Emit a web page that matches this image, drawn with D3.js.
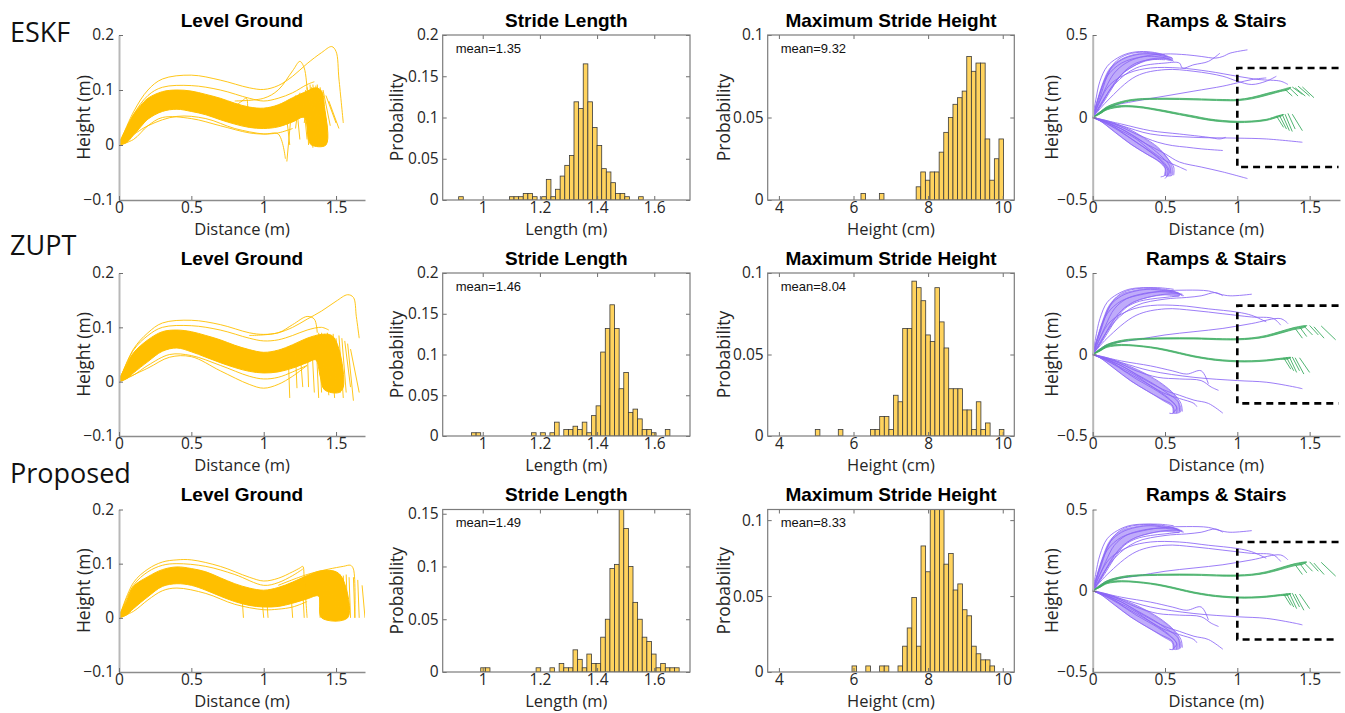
<!DOCTYPE html>
<html>
<head>
<meta charset="utf-8">
<script src="https://cdn.jsdelivr.net/npm/d3@7"></script>
<style>
body { margin: 0; background: #fff; }
</style>
</head>
<body>
<div id="chart"></div>
<script>
// ---------- data: level ground trajectories (distance m, height m) ----------
var lgEskfTop = [[0,0.004],[0.05,0.03],[0.1,0.055],[0.15,0.072],[0.2,0.085],[0.3,0.097],[0.4,0.1],[0.5,0.098],[0.6,0.092],[0.7,0.085],[0.8,0.076],[0.9,0.069],[1.0,0.067],[1.1,0.073],[1.2,0.086],[1.3,0.098],[1.36,0.104],[1.4,0.098],[1.42,0.07],[1.43,0.0]];
var lgEskfBottom = [[0,0],[0.05,0.004],[0.1,0.018],[0.15,0.033],[0.2,0.047],[0.3,0.061],[0.4,0.065],[0.5,0.061],[0.6,0.055],[0.7,0.046],[0.8,0.038],[0.9,0.032],[1.0,0.03],[1.1,0.033],[1.2,0.042],[1.28,0.05],[1.31,0.01],[1.33,0.0]];
var lgEskfLines = [
  [[0,0],[0.1,0.06],[0.2,0.1],[0.3,0.12],[0.5,0.127],[0.7,0.118],[0.9,0.104],[1.0,0.101],[1.1,0.108],[1.2,0.125],[1.3,0.148],[1.4,0.168],[1.47,0.179],[1.5,0.17],[1.52,0.12],[1.55,0.04]],
  [[0.8,0.08],[1.0,0.085],[1.1,0.1],[1.2,0.135],[1.25,0.152],[1.28,0.14],[1.3,0.1]],
  [[0,0],[0.1,0.055],[0.2,0.09],[0.3,0.105],[0.5,0.108],[0.7,0.1],[0.9,0.085],[1.0,0.08],[1.1,0.085],[1.2,0.095],[1.3,0.11],[1.35,0.115]],
  [[0,0],[0.2,0.035],[0.4,0.052],[0.6,0.048],[0.8,0.03],[1.0,0.02],[1.1,0.02],[1.15,-0.025]],
  [[0.75,0.06],[0.85,0.08],[0.88,0.085],[0.9,0.05],[0.95,0.04]],
  [[0,0],[0.1,0.01],[0.2,0.035],[0.3,0.05],[0.5,0.048],[0.7,0.035],[0.9,0.022],[1.0,0.02],[1.1,0.022],[1.2,0.03]]
];
var lgEskfTails = [[1.27,0.09,1.3,0.01],[1.29,0.1,1.31,0.0],[1.3,0.105,1.33,0.005],[1.31,0.1,1.34,-0.005],[1.32,0.11,1.35,0.0],[1.33,0.105,1.36,0.01],[1.34,0.11,1.37,0.0],[1.35,0.1,1.38,0.005],[1.36,0.108,1.39,0.01],[1.37,0.11,1.4,0.0],[1.38,0.1,1.41,0.015],[1.39,0.105,1.42,0.02],[1.4,0.095,1.44,0.03],[1.41,0.1,1.46,0.035],[1.43,0.09,1.5,0.04],[1.45,0.08,1.52,0.03],[1.25,0.095,1.22,0.03],[1.2,0.085,1.16,-0.03],[1.15,0.07,1.18,0.0],[1.22,0.09,1.25,0.01],[1.3,0.08,1.28,0.04],[1.33,0.085,1.32,0.03]];

var lgZuptTop = [[0,0.004],[0.05,0.03],[0.1,0.053],[0.2,0.077],[0.3,0.092],[0.4,0.095],[0.5,0.092],[0.6,0.085],[0.7,0.077],[0.8,0.067],[0.9,0.059],[1.0,0.054],[1.1,0.058],[1.2,0.068],[1.3,0.08],[1.4,0.087],[1.47,0.085],[1.52,0.06],[1.55,-0.01]];
var lgZuptBottom = [[0,0],[0.05,0.005],[0.1,0.016],[0.2,0.037],[0.3,0.056],[0.4,0.062],[0.5,0.055],[0.6,0.045],[0.7,0.035],[0.8,0.026],[0.9,0.019],[1.0,0.016],[1.1,0.018],[1.2,0.025],[1.3,0.035],[1.36,0.04],[1.39,0.01],[1.42,-0.015],[1.52,-0.02]];
var lgZuptLines = [
  [[0,0],[0.1,0.06],[0.2,0.09],[0.3,0.108],[0.5,0.113],[0.7,0.105],[0.9,0.09],[1.0,0.087],[1.1,0.09],[1.2,0.1],[1.3,0.115],[1.4,0.13],[1.5,0.148],[1.58,0.16],[1.62,0.155],[1.64,0.12],[1.66,0.08]],
  [[0.9,0.085],[1.1,0.09],[1.2,0.105],[1.3,0.12],[1.35,0.115],[1.37,0.09]],
  [[0,0],[0.2,0.025],[0.35,0.045],[0.5,0.046],[0.7,0.02],[0.9,-0.005],[1.0,-0.012],[1.1,-0.005],[1.2,0.01],[1.3,0.03]],
  [[0,0],[0.1,0.058],[0.2,0.085],[0.3,0.1],[0.5,0.103],[0.7,0.095],[0.9,0.08],[1.0,0.075],[1.1,0.077],[1.2,0.085],[1.3,0.095],[1.4,0.1],[1.45,0.095]],
  [[0,0],[0.1,0.012],[0.2,0.03],[0.35,0.05],[0.5,0.048],[0.7,0.03],[0.9,0.01],[1.0,0.005],[1.1,0.008],[1.2,0.018],[1.3,0.03]]
];
var lgZuptTails = [[1.3,0.07,1.31,-0.01],[1.33,0.08,1.35,-0.02],[1.36,0.085,1.38,-0.03],[1.38,0.09,1.4,-0.02],[1.4,0.09,1.42,-0.01],[1.42,0.088,1.45,-0.025],[1.44,0.09,1.47,-0.02],[1.46,0.085,1.49,-0.03],[1.48,0.088,1.5,-0.015],[1.5,0.08,1.53,-0.02],[1.52,0.085,1.55,-0.03],[1.54,0.08,1.57,-0.02],[1.56,0.075,1.6,-0.01],[1.58,0.07,1.62,-0.035],[1.6,0.06,1.66,-0.02],[1.17,0.045,1.18,-0.03],[1.22,0.05,1.23,-0.012],[1.25,0.06,1.27,-0.01]];

var lgPropTop = [[0,0.004],[0.05,0.03],[0.1,0.058],[0.2,0.076],[0.3,0.089],[0.4,0.094],[0.5,0.091],[0.6,0.085],[0.7,0.074],[0.8,0.063],[0.9,0.055],[1.0,0.051],[1.1,0.056],[1.2,0.066],[1.3,0.078],[1.4,0.087],[1.5,0.085],[1.55,0.07],[1.58,0.0]];
var lgPropBottom = [[0,0],[0.05,0.005],[0.1,0.017],[0.2,0.039],[0.3,0.058],[0.4,0.063],[0.5,0.06],[0.6,0.051],[0.7,0.04],[0.8,0.03],[0.9,0.023],[1.0,0.02],[1.1,0.021],[1.2,0.027],[1.3,0.035],[1.38,0.04],[1.4,0.0]];
var lgPropLines = [
  [[0,0],[0.1,0.065],[0.2,0.09],[0.3,0.103],[0.4,0.107],[0.5,0.107],[0.7,0.095],[0.9,0.075],[1.0,0.068],[1.1,0.073],[1.2,0.085],[1.25,0.092],[1.27,0.095],[1.28,0.07],[1.3,0.0]],
  [[1.1,0.06],[1.3,0.08],[1.45,0.09],[1.55,0.095],[1.6,0.097],[1.62,0.09],[1.63,0.0]],
  [[0,0],[0.1,0.06],[0.2,0.085],[0.3,0.097],[0.4,0.1],[0.6,0.095],[0.8,0.08],[1.0,0.06],[1.1,0.065],[1.2,0.078],[1.27,0.09]],
  [[0,0],[0.1,0.012],[0.2,0.033],[0.3,0.05],[0.4,0.055],[0.6,0.045],[0.8,0.025],[1.0,0.015],[1.1,0.016],[1.2,0.02],[1.3,0.03]]
];
var lgPropTails = [[1.38,0.08,1.39,0],[1.41,0.085,1.42,0],[1.43,0.088,1.44,0],[1.45,0.087,1.46,0],[1.47,0.085,1.48,0],[1.49,0.086,1.5,0],[1.51,0.084,1.52,0],[1.53,0.08,1.54,0],[1.55,0.078,1.56,0],[1.57,0.08,1.58,0],[1.59,0.075,1.6,0],[1.62,0.075,1.63,0],[1.65,0.07,1.66,0],[1.68,0.06,1.7,0],[0.85,0.04,0.86,0],[0.99,0.03,1.0,0],[1.02,0.04,1.03,0],[1.19,0.04,1.2,0],[1.27,0.05,1.28,0]];

// ---------- data: histograms (probability per bin) ----------
var slBinWidth = 0.01614;
var slEskfStart = 0.9158;
var slEskf = [0.004,0,0,0,0,0,0,0,0,0,0,0.004,0.004,0.004,0.008,0.008,0.004,0,0.004,0.025,0.004,0.013,0.029,0.042,0.054,0.119,0.111,0.165,0.119,0.088,0.066,0.038,0.034,0.021,0.008,0.008,0.004,0,0,0.004];
var slZuptStart = 0.9607;
var slZupt = [0.004,0.004,0,0,0,0,0,0,0,0,0,0,0,0.004,0,0.004,0,0.004,0.017,0,0.008,0.008,0.012,0.008,0.017,0.004,0.025,0.037,0.103,0.132,0.161,0.132,0.058,0.078,0.029,0.033,0.021,0.008,0.008,0.004,0,0,0.008];
var slPropStart = 0.993;
var slProp = [0.004,0.004,0,0,0,0,0,0,0,0,0,0,0.004,0,0,0.004,0,0.008,0.004,0.004,0.021,0.012,0.004,0.017,0.008,0.008,0.033,0.05,0.098,0.102,0.16,0.136,0.1,0.066,0.05,0.033,0.029,0.017,0.004,0.008,0.004,0.004,0.004];

var mhBinWidth = 0.1233;
var mhEskfStart = 6.2;
var mhEskf = [0.004,0,0,0,0.004,0,0,0,0,0,0,0,0.008,0.017,0.012,0.017,0.017,0.029,0.041,0.05,0.058,0.062,0.066,0.087,0.078,0.083,0.083,0.037,0.012,0.025,0.037];
var mhZuptStart = 4.976;
var mhZupt = [0.004,0,0,0,0,0.004,0,0,0,0,0,0,0.004,0.004,0.012,0.012,0.004,0.025,0.021,0.066,0.066,0.095,0.091,0.083,0.062,0.058,0.091,0.07,0.054,0.029,0.029,0.029,0.016,0.016,0.004,0.021,0.004,0.008,0,0,0.004];
var mhPropStart = 5.96;
var mhProp = [0.004,0,0,0.004,0,0,0.004,0.004,0,0,0.004,0.017,0.029,0.049,0.017,0.083,0.066,0.12,0.13,0.115,0.071,0.078,0.054,0.058,0.041,0.037,0.017,0.012,0.008,0.008,0.004];

var slMeans = ["1.35", "1.46", "1.49"];
var mhMeans = ["9.32", "8.04", "8.33"];

// ---------- data: ramps & stairs (row 1 = A, rows 2-3 = B) ----------
var rsPurpleA = [
  [[0,0],[0.02,0.1],[0.05,0.22],[0.1,0.31],[0.17,0.36],[0.25,0.39],[0.35,0.4],[0.45,0.39],[0.52,0.37]],
  [[0,0],[0.03,0.09],[0.07,0.2],[0.12,0.29],[0.2,0.35],[0.3,0.38],[0.4,0.385],[0.5,0.37],[0.55,0.36]],
  [[0,0],[0.04,0.08],[0.09,0.18],[0.15,0.27],[0.23,0.33],[0.33,0.365],[0.43,0.37],[0.53,0.355],[0.56,0.34]],
  [[0,0],[0.06,0.08],[0.12,0.17],[0.2,0.26],[0.28,0.31],[0.38,0.35],[0.48,0.36],[0.54,0.35]],
  [[0,0],[0.05,0.12],[0.1,0.25],[0.15,0.33],[0.22,0.375],[0.32,0.395],[0.42,0.39],[0.5,0.38]],
  [[0,0],[0.08,0.1],[0.15,0.2],[0.22,0.28],[0.3,0.33],[0.4,0.35],[0.5,0.35]],
  [[0,0],[0.04,0.12],[0.1,0.25],[0.2,0.33],[0.35,0.37],[0.5,0.385],[0.65,0.38],[0.75,0.37],[0.85,0.36],[0.9,0.37],[0.95,0.39],[1.07,0.41]],
  [[0,0],[0.05,0.1],[0.12,0.2],[0.25,0.27],[0.4,0.3],[0.6,0.3],[0.8,0.28],[1.0,0.25],[1.15,0.23],[1.3,0.22],[1.35,0.2]],
  [[0,0],[0.1,0.1],[0.3,0.25],[0.5,0.29],[0.7,0.28],[0.9,0.25],[1.0,0.22],[1.1,0.2],[1.2,0.22],[1.27,0.25]],
  [[0,0],[0.1,0.06],[0.3,0.1],[0.5,0.13],[0.7,0.16],[0.9,0.19],[1.0,0.21],[1.1,0.23],[1.2,0.24]],
  [[0,0],[0.15,0.2],[0.3,0.3],[0.5,0.33],[0.6,0.33],[0.62,0.3],[0.7,0.32],[0.8,0.34],[0.88,0.39]],
  [[0,0],[0.05,-0.02],[0.14,-0.08],[0.26,-0.16],[0.37,-0.22],[0.45,-0.26],[0.5,-0.3],[0.5,-0.35],[0.47,-0.36]],
  [[0,0],[0.08,-0.03],[0.18,-0.08],[0.3,-0.15],[0.4,-0.21],[0.48,-0.27],[0.52,-0.32],[0.51,-0.36]],
  [[0,0],[0.1,-0.03],[0.2,-0.07],[0.3,-0.12],[0.4,-0.18],[0.48,-0.24],[0.53,-0.29],[0.54,-0.34]],
  [[0,0],[0.1,-0.02],[0.25,-0.07],[0.35,-0.12],[0.45,-0.18],[0.52,-0.25],[0.56,-0.3],[0.56,-0.35]],
  [[0,0],[0.12,-0.04],[0.22,-0.1],[0.32,-0.16],[0.42,-0.22],[0.5,-0.28],[0.53,-0.33],[0.5,-0.37]],
  [[0,0],[0.2,-0.05],[0.4,-0.1],[0.7,-0.12],[1.0,-0.125],[1.2,-0.13],[1.45,-0.15]],
  [[0,0],[0.15,-0.04],[0.3,-0.1],[0.45,-0.15],[0.55,-0.17],[0.65,-0.18],[0.75,-0.19],[0.9,-0.2]],
  [[0,0],[0.2,-0.07],[0.35,-0.15],[0.5,-0.22],[0.6,-0.27],[0.75,-0.3],[0.9,-0.33],[1.07,-0.37]],
  [[0,0],[0.15,-0.06],[0.3,-0.13],[0.4,-0.2],[0.5,-0.26],[0.6,-0.3],[0.65,-0.32]],
  [[0,0],[0.2,-0.04],[0.4,-0.08],[0.6,-0.1],[0.8,-0.12],[0.88,-0.13],[0.92,-0.12]]
];
var rsUpTopA = [[0,0],[0.03,0.1],[0.07,0.21],[0.12,0.3],[0.2,0.355],[0.3,0.385],[0.4,0.39],[0.5,0.375],[0.55,0.36]];
var rsUpBotA = [[0,0],[0.06,0.08],[0.12,0.17],[0.2,0.26],[0.28,0.31],[0.38,0.345],[0.48,0.355],[0.55,0.345]];
var rsDownTopA = [[0,0],[0.1,-0.025],[0.25,-0.075],[0.35,-0.125],[0.45,-0.185],[0.52,-0.25],[0.55,-0.3],[0.55,-0.35]];
var rsDownBotA = [[0,0],[0.06,-0.025],[0.15,-0.085],[0.27,-0.165],[0.38,-0.225],[0.46,-0.27],[0.5,-0.31],[0.5,-0.35]];
var rsGreenHiTopA = [[0,0],[0.05,0.033],[0.1,0.066],[0.2,0.097],[0.3,0.112],[0.5,0.117],[0.7,0.114],[0.9,0.109],[1.0,0.109],[1.1,0.122],[1.2,0.145],[1.3,0.167],[1.37,0.182]];
var rsGreenHiBotA = [[0,0],[0.05,0.022],[0.1,0.053],[0.2,0.088],[0.3,0.105],[0.5,0.11],[0.7,0.107],[0.9,0.102],[1.0,0.102],[1.1,0.113],[1.2,0.134],[1.3,0.158],[1.35,0.168]];
var rsGreenLoTopA = [[0,0],[0.05,0.03],[0.1,0.058],[0.2,0.072],[0.3,0.069],[0.4,0.057],[0.5,0.042],[0.6,0.025],[0.7,0.009],[0.8,-0.008],[0.9,-0.018],[1.0,-0.023],[1.1,-0.021],[1.2,-0.011],[1.28,0.01],[1.32,0.018]];
var rsGreenLoBotA = [[0,0],[0.05,0.022],[0.1,0.047],[0.2,0.064],[0.3,0.062],[0.4,0.05],[0.5,0.034],[0.6,0.017],[0.7,0.0],[0.8,-0.016],[0.9,-0.026],[1.0,-0.031],[1.1,-0.028],[1.2,-0.018],[1.28,0.002],[1.3,0.007]];
var rsGreenHooksA = [[1.33,0.17,1.38,0.13],[1.36,0.18,1.42,0.13],[1.38,0.185,1.45,0.14],[1.4,0.18,1.47,0.13],[1.42,0.19,1.5,0.13],[1.45,0.185,1.53,0.12],[1.27,0.01,1.32,-0.06],[1.29,0.015,1.34,-0.07],[1.31,0.02,1.36,-0.08],[1.33,0.02,1.38,-0.085],[1.35,0.025,1.4,-0.07],[1.38,0.02,1.45,-0.08]];

var rsPurpleB = [
  [[0,0],[0.02,0.1],[0.05,0.22],[0.1,0.32],[0.17,0.37],[0.25,0.4],[0.35,0.41],[0.45,0.405],[0.55,0.39],[0.6,0.37]],
  [[0,0],[0.03,0.09],[0.07,0.2],[0.12,0.3],[0.2,0.36],[0.3,0.39],[0.4,0.4],[0.5,0.39],[0.58,0.38],[0.62,0.36]],
  [[0,0],[0.04,0.08],[0.09,0.18],[0.15,0.28],[0.23,0.34],[0.33,0.37],[0.45,0.385],[0.55,0.38],[0.62,0.37]],
  [[0,0],[0.06,0.08],[0.12,0.18],[0.2,0.27],[0.28,0.32],[0.38,0.35],[0.5,0.37],[0.6,0.37],[0.63,0.36]],
  [[0,0],[0.05,0.13],[0.1,0.26],[0.15,0.34],[0.22,0.385],[0.32,0.405],[0.45,0.41],[0.56,0.4]],
  [[0,0],[0.08,0.1],[0.15,0.2],[0.22,0.28],[0.3,0.32],[0.4,0.34],[0.5,0.35],[0.6,0.36]],
  [[0,0],[0.04,0.12],[0.1,0.25],[0.2,0.33],[0.35,0.37],[0.5,0.39],[0.65,0.395],[0.8,0.39],[0.88,0.37],[0.95,0.36],[1.1,0.37]],
  [[0,0],[0.05,0.1],[0.12,0.2],[0.25,0.27],[0.4,0.3],[0.6,0.3],[0.8,0.28],[1.0,0.26],[1.1,0.24],[1.2,0.2]],
  [[0,0],[0.1,0.1],[0.3,0.24],[0.5,0.28],[0.7,0.27],[0.9,0.25],[1.1,0.23],[1.25,0.22],[1.3,0.18]],
  [[0,0],[0.1,0.06],[0.3,0.09],[0.5,0.12],[0.7,0.14],[0.9,0.16],[1.1,0.19],[1.3,0.22],[1.35,0.19]],
  [[0,0],[0.15,0.2],[0.3,0.3],[0.5,0.34],[0.65,0.35],[0.75,0.36],[0.85,0.38],[0.9,0.36]],
  [[0,0],[0.05,-0.02],[0.14,-0.08],[0.26,-0.16],[0.37,-0.22],[0.47,-0.27],[0.55,-0.31],[0.56,-0.36],[0.53,-0.36]],
  [[0,0],[0.08,-0.03],[0.18,-0.08],[0.3,-0.15],[0.42,-0.21],[0.52,-0.27],[0.58,-0.32],[0.58,-0.36]],
  [[0,0],[0.1,-0.03],[0.2,-0.07],[0.3,-0.12],[0.42,-0.18],[0.52,-0.24],[0.59,-0.29],[0.6,-0.35]],
  [[0,0],[0.1,-0.02],[0.25,-0.07],[0.37,-0.12],[0.48,-0.18],[0.56,-0.24],[0.61,-0.3],[0.62,-0.35]],
  [[0,0],[0.12,-0.04],[0.22,-0.1],[0.34,-0.16],[0.45,-0.22],[0.54,-0.28],[0.58,-0.33],[0.55,-0.36]],
  [[0,0],[0.2,-0.05],[0.4,-0.1],[0.7,-0.14],[1.0,-0.16],[1.2,-0.17],[1.4,-0.2],[1.45,-0.21]],
  [[0,0],[0.15,-0.04],[0.3,-0.1],[0.45,-0.14],[0.6,-0.15],[0.75,-0.16],[0.82,-0.2],[0.87,-0.22]],
  [[0,0],[0.2,-0.07],[0.35,-0.15],[0.5,-0.22],[0.6,-0.25],[0.7,-0.28],[0.8,-0.3],[0.9,-0.36]],
  [[0,0],[0.15,-0.06],[0.3,-0.13],[0.4,-0.19],[0.5,-0.24],[0.6,-0.27],[0.7,-0.3],[0.72,-0.32]],
  [[0,0],[0.2,-0.04],[0.4,-0.07],[0.55,-0.1],[0.65,-0.12],[0.75,-0.1],[0.8,-0.18]]
];
var rsUpTopB = [[0,0],[0.03,0.1],[0.07,0.21],[0.12,0.31],[0.2,0.37],[0.3,0.395],[0.4,0.405],[0.5,0.395],[0.6,0.375]];
var rsUpBotB = [[0,0],[0.06,0.08],[0.12,0.17],[0.2,0.27],[0.28,0.32],[0.38,0.35],[0.5,0.365],[0.6,0.36]];
var rsDownTopB = [[0,0],[0.1,-0.025],[0.25,-0.075],[0.37,-0.125],[0.48,-0.185],[0.56,-0.245],[0.6,-0.3],[0.61,-0.35]];
var rsDownBotB = [[0,0],[0.06,-0.025],[0.15,-0.085],[0.27,-0.165],[0.38,-0.225],[0.48,-0.28],[0.55,-0.32],[0.56,-0.36]];
var rsGreenHiTopB = [[0,0],[0.05,0.033],[0.1,0.062],[0.2,0.087],[0.3,0.097],[0.5,0.102],[0.7,0.102],[0.9,0.097],[1.0,0.097],[1.1,0.102],[1.2,0.117],[1.3,0.142],[1.4,0.167],[1.48,0.177]];
var rsGreenHiBotB = [[0,0],[0.05,0.022],[0.1,0.05],[0.2,0.078],[0.3,0.09],[0.5,0.095],[0.7,0.095],[0.9,0.09],[1.0,0.09],[1.1,0.095],[1.2,0.108],[1.3,0.131],[1.4,0.155],[1.45,0.162]];
var rsGreenLoTopB = [[0,0],[0.05,0.029],[0.1,0.053],[0.2,0.062],[0.3,0.057],[0.4,0.047],[0.5,0.032],[0.6,0.012],[0.7,-0.008],[0.8,-0.023],[0.9,-0.033],[1.0,-0.038],[1.1,-0.038],[1.2,-0.033],[1.3,-0.023],[1.37,-0.018]];
var rsGreenLoBotB = [[0,0],[0.05,0.021],[0.1,0.044],[0.2,0.055],[0.3,0.051],[0.4,0.041],[0.5,0.025],[0.6,0.005],[0.7,-0.015],[0.8,-0.03],[0.9,-0.04],[1.0,-0.045],[1.1,-0.045],[1.2,-0.04],[1.3,-0.03],[1.35,-0.027]];
var rsGreenHooksB = [[1.4,0.16,1.45,0.1],[1.43,0.17,1.48,0.11],[1.46,0.175,1.52,0.12],[1.5,0.178,1.56,0.12],[1.53,0.17,1.6,0.1],[1.58,0.175,1.68,0.09],[1.32,-0.02,1.37,-0.09],[1.34,-0.018,1.39,-0.1],[1.36,-0.015,1.41,-0.11],[1.38,-0.015,1.43,-0.1],[1.4,-0.02,1.46,-0.12],[1.43,-0.02,1.5,-0.11]];
var rsBoxRect = [[1.7,0.3],[1,0.3],[1,-0.3],[1.7,-0.3]];

// ---------- ticks and labels ----------
var rowNames = ["ESKF", "ZUPT", "Proposed"];
var lgXTicks = [0, 0.5, 1, 1.5];
var lgYTicks = [-0.1, 0, 0.1, 0.2];
var slXTicks = [1, 1.2, 1.4, 1.6];
var slYTicks = [0, 0.05, 0.1, 0.15, 0.2];
var mhXTicks = [4, 6, 8, 10];
var mhYTicks = [0, 0.05, 0.1];
var rsYTicks = [-0.5, 0, 0.5];

// ---------- layout ----------
var W = 1345, H = 713;
var rowTop = [35, 273, 509.5];
var rowBot = [200, 436, 672];
var rowLabelY = [42, 255, 483];
var colL = [119, 442.7, 767.7, 1092.7];
var colR = [365, 690, 1014.3, 1340];
var slYMax = [0.2, 0.2, 0.154];
var mhYMax = [0.1, 0.1, 0.107];

var yellow = "#ffbf00";
var purple = "#8b66f6";
var green = "#3dad62";
var tickFont = '"Open Sans", sans-serif';
var titleFont = '"Liberation Sans", Arial, sans-serif';

var svg = d3.select("#chart").append("svg")
    .attr("width", W).attr("height", H)
    .style("background", "#fff");

var clipCount = 0;

function fmt(d)
{
    return String(+d.toFixed(3)).replace("-", "\u2212");
}

function addClip(l, t, r, b)
{
    var id = "clip" + (clipCount++);
    svg.append("clipPath").attr("id", id).append("rect")
        .attr("x", l).attr("y", t).attr("width", r - l).attr("height", b - t);
    return "url(#" + id + ")";
}

function styleAxis(g)
{
    g.attr("font-size", 15.5).attr("font-family", tickFont);
    g.selectAll(".tick line").attr("stroke", "#6e6e6e");
    g.selectAll(".tick text").attr("fill", "#262626");
}

function openAxes(x, y, xt, yt)
{
    var l = x.range()[0], b = y.range()[0];
    var ga = svg.append("g").attr("transform", "translate(" + l + ",0)")
        .call(d3.axisLeft(y).tickValues(yt).tickFormat(fmt).tickSize(-4).tickSizeOuter(0).tickPadding(5));
    ga.select(".domain").attr("stroke", "#b8b8b8").attr("stroke-width", 2);
    var gb = svg.append("g").attr("transform", "translate(0," + b + ")")
        .call(d3.axisBottom(x).tickValues(xt).tickFormat(fmt).tickSize(-4).tickSizeOuter(0).tickPadding(2));
    gb.select(".domain").attr("stroke", "#8c8c8c").attr("stroke-width", 1.4);
    styleAxis(ga);
    styleAxis(gb);
}

function boxAxes(x, y, xt, yt)
{
    var l = x.range()[0], r = x.range()[1], b = y.range()[0], t = y.range()[1];
    var axes = [
        [d3.axisLeft(y).tickValues(yt).tickFormat(fmt).tickPadding(4), "translate(" + l + ",0)"],
        [d3.axisRight(y).tickValues(yt).tickFormat(""), "translate(" + r + ",0)"],
        [d3.axisBottom(x).tickValues(xt).tickFormat(fmt).tickPadding(2), "translate(0," + b + ")"],
        [d3.axisTop(x).tickValues(xt).tickFormat(""), "translate(0," + t + ")"]
    ];
    axes.forEach(function(a) {
        var g = svg.append("g").attr("transform", a[1])
            .call(a[0].tickSize(-4).tickSizeOuter(0));
        g.select(".domain").remove();
        styleAxis(g);
    });
    svg.append("rect")
        .attr("x", l).attr("y", t).attr("width", r - l).attr("height", b - t)
        .attr("fill", "none").attr("stroke", "#7c7c7c").attr("stroke-width", 1.2);
}

function labels(col, row, title, xlab, ylab, ylabX)
{
    var cx = (colL[col] + colR[col]) / 2;
    var mid = (rowTop[row] + rowBot[row]) / 2;
    svg.append("text").attr("x", cx).attr("y", rowTop[row] - 8.5)
        .attr("text-anchor", "middle").attr("font-family", titleFont)
        .attr("font-weight", "bold").attr("font-size", 19).attr("fill", "#000")
        .text(title);
    svg.append("text").attr("x", cx).attr("y", rowBot[row] + 35)
        .attr("text-anchor", "middle").attr("font-family", tickFont)
        .attr("font-size", 16.5).attr("fill", "#262626")
        .text(xlab);
    svg.append("text")
        .attr("transform", "translate(" + ylabX + "," + mid + ") rotate(-90)")
        .attr("text-anchor", "middle").attr("font-family", tickFont)
        .attr("font-size", 17.5).attr("fill", "#262626")
        .text(ylab);
}

function ptLine(x, y, curve)
{
    return d3.line().x(function(d) { return x(d[0]); }).y(function(d) { return y(d[1]); }).curve(curve);
}

function drawBand(g, x, y, top, bottom, color, op)
{
    var smooth = ptLine(x, y, d3.curveCatmullRom.alpha(0.5));
    var pts = top.concat(bottom.slice().reverse());
    g.append("path").attr("d", smooth(pts) + "Z")
        .attr("fill", color).attr("fill-opacity", op)
        .attr("stroke", color).attr("stroke-opacity", op).attr("stroke-width", 1);
}

function drawSegments(g, x, y, segs, color, width)
{
    var straight = ptLine(x, y, d3.curveLinear);
    g.selectAll(null).data(segs).enter().append("path")
        .attr("d", function(s) { return straight([[s[0], s[1]], [s[2], s[3]]]); })
        .attr("fill", "none").attr("stroke", color).attr("stroke-width", width);
}

function drawLines(g, x, y, lines, color, width, op)
{
    var smooth = ptLine(x, y, d3.curveCatmullRom.alpha(0.5));
    g.selectAll(null).data(lines).enter().append("path")
        .attr("d", smooth)
        .attr("fill", "none").attr("stroke", color)
        .attr("stroke-width", width).attr("stroke-opacity", op);
}

function levelPanel(row, top, bottom, lines, tails)
{
    var x = d3.scaleLinear().domain([0, 1.7]).range([colL[0], colR[0]]);
    var y = d3.scaleLinear().domain([-0.1, 0.2]).range([rowBot[row], rowTop[row]]);
    var g = svg.append("g").attr("clip-path", addClip(colL[0], rowTop[row], colR[0], rowBot[row]));
    drawBand(g, x, y, top, bottom, yellow, 1);
    drawLines(g, x, y, lines, yellow, 0.9, 1);
    drawSegments(g, x, y, tails, yellow, 0.9);
    openAxes(x, y, lgXTicks, lgYTicks);
    labels(0, row, "Level Ground", "Distance (m)", "Height (m)", 90);
}

function histPanel(col, row, domain, yMax, start, width, probs, xt, yt, title, xlab, mean)
{
    var x = d3.scaleLinear().domain(domain).range([colL[col], colR[col]]);
    var y = d3.scaleLinear().domain([0, yMax]).range([rowBot[row], rowTop[row]]);
    var bins = probs.map(function(p, i) {
        return { x0: start + i * width, x1: start + (i + 1) * width, p: p };
    }).filter(function(d) { return d.p > 0; });
    var g = svg.append("g").attr("clip-path", addClip(colL[col], rowTop[row], colR[col], rowBot[row]));
    g.selectAll("rect").data(bins).enter().append("rect")
        .attr("x", function(d) { return x(d.x0); })
        .attr("width", function(d) { return x(d.x1) - x(d.x0); })
        .attr("y", function(d) { return y(d.p); })
        .attr("height", function(d) { return y(0) - y(d.p); })
        .attr("fill", "#ffd35e").attr("stroke", "#3a3a3a").attr("stroke-width", 0.8);
    boxAxes(x, y, xt, yt.filter(function(v) { return v <= yMax + 1e-9; }));
    svg.append("text").attr("x", colL[col] + 13).attr("y", rowTop[row] + 17.5)
        .attr("font-family", titleFont).attr("font-size", 13).attr("fill", "#111")
        .text("mean=" + mean);
    labels(col, row, title, xlab, "Probability", col == 1 ? 403 : 730);
}

function rampPanel(row, purpleLines, upTop, upBot, downTop, downBot, hiTop, hiBot, loTop, loBot, hooks)
{
    var x = d3.scaleLinear().domain([0, 1.71]).range([colL[3], colR[3]]);
    var y = d3.scaleLinear().domain([-0.5, 0.5]).range([rowBot[row], rowTop[row]]);
    var g = svg.append("g").attr("clip-path", addClip(colL[3], rowTop[row], colR[3], rowBot[row]));
    drawBand(g, x, y, upTop, upBot, purple, 0.55);
    drawBand(g, x, y, downTop, downBot, purple, 0.55);
    drawLines(g, x, y, purpleLines, purple, 1, 0.85);
    drawBand(g, x, y, hiTop, hiBot, green, 0.8);
    drawBand(g, x, y, loTop, loBot, green, 0.8);
    drawSegments(g, x, y, hooks, green, 0.9);
    svg.append("path").attr("d", ptLine(x, y, d3.curveLinear)(rsBoxRect))
        .attr("fill", "none").attr("stroke", "#000")
        .attr("stroke-width", 2.6).attr("stroke-dasharray", "7,5");
    openAxes(x, y, lgXTicks, rsYTicks);
    labels(3, row, "Ramps & Stairs", "Distance (m)", "Height (m)", 1058);
}

// row labels
rowNames.forEach(function(n, i) {
    svg.append("text").attr("x", 10).attr("y", rowLabelY[i])
        .attr("font-family", tickFont).attr("font-size", 27).attr("fill", "#111")
        .text(n);
});

levelPanel(0, lgEskfTop, lgEskfBottom, lgEskfLines, lgEskfTails);
levelPanel(1, lgZuptTop, lgZuptBottom, lgZuptLines, lgZuptTails);
levelPanel(2, lgPropTop, lgPropBottom, lgPropLines, lgPropTails);

histPanel(1, 0, [0.86, 1.725], slYMax[0], slEskfStart, slBinWidth, slEskf, slXTicks, slYTicks, "Stride Length", "Length (m)", slMeans[0]);
histPanel(1, 1, [0.86, 1.725], slYMax[1], slZuptStart, slBinWidth, slZupt, slXTicks, slYTicks, "Stride Length", "Length (m)", slMeans[1]);
histPanel(1, 2, [0.86, 1.725], slYMax[2], slPropStart, slBinWidth, slProp, slXTicks, slYTicks, "Stride Length", "Length (m)", slMeans[2]);

histPanel(2, 0, [3.7, 10.31], mhYMax[0], mhEskfStart, mhBinWidth, mhEskf, mhXTicks, mhYTicks, "Maximum Stride Height", "Height (cm)", mhMeans[0]);
histPanel(2, 1, [3.7, 10.31], mhYMax[1], mhZuptStart, mhBinWidth, mhZupt, mhXTicks, mhYTicks, "Maximum Stride Height", "Height (cm)", mhMeans[1]);
histPanel(2, 2, [3.7, 10.31], mhYMax[2], mhPropStart, mhBinWidth, mhProp, mhXTicks, mhYTicks, "Maximum Stride Height", "Height (cm)", mhMeans[2]);

rampPanel(0, rsPurpleA, rsUpTopA, rsUpBotA, rsDownTopA, rsDownBotA, rsGreenHiTopA, rsGreenHiBotA, rsGreenLoTopA, rsGreenLoBotA, rsGreenHooksA);
rampPanel(1, rsPurpleB, rsUpTopB, rsUpBotB, rsDownTopB, rsDownBotB, rsGreenHiTopB, rsGreenHiBotB, rsGreenLoTopB, rsGreenLoBotB, rsGreenHooksB);
rampPanel(2, rsPurpleB, rsUpTopB, rsUpBotB, rsDownTopB, rsDownBotB, rsGreenHiTopB, rsGreenHiBotB, rsGreenLoTopB, rsGreenLoBotB, rsGreenHooksB);
</script>
</body>
</html>
